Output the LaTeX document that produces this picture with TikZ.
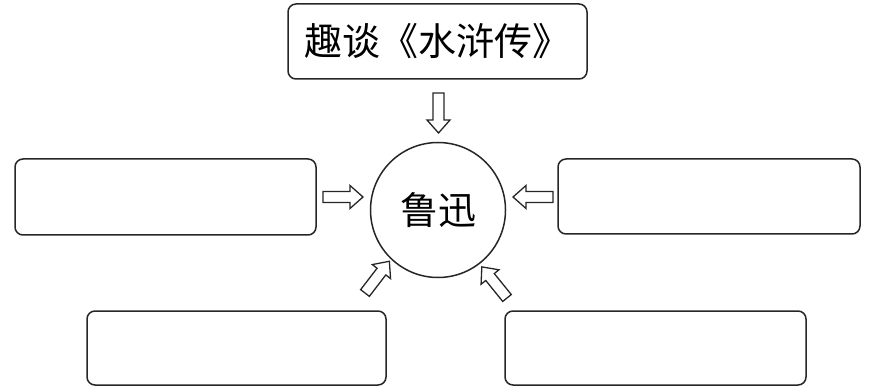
\documentclass[tikz,border=0pt]{standalone}
\usepackage{fontspec}
\newfontfamily\cjk{Noto Sans CJK SC}
\begin{document}
\begin{tikzpicture}[x=1pt,y=1pt,
  boxline/.style={draw=black!85, line width=1.5pt, rounded corners=8pt},
  blankbox/.style={boxline, minimum width=300pt, minimum height=75pt, inner sep=0pt},
  arrowline/.style={draw=black!85, line width=1.3pt, line join=miter},
  pics/hollowarrow/.style={code={
    \draw[arrowline] (0,-5.5) -- (27,-5.5) -- (27,-11.5) -- (40,0) -- (27,11.5) -- (27,5.5) -- (0,5.5) -- cycle;}}
]
\useasboundingbox (0,0) rectangle (869,391);
% title box
\node[boxline, minimum width=299pt, minimum height=75pt, inner sep=0pt, font=\cjk\fontsize{38}{40}\selectfont] (title) at (437.5,349.5) {趣谈《水浒传》};
% centre circle
\node[circle, draw=black!85, line width=1.5pt, minimum size=135pt, inner sep=0pt, font=\cjk\fontsize{38}{40}\selectfont] (lx) at (438,181) {鲁迅};
% blank boxes
\node[blankbox, minimum width=301pt, minimum height=76pt] (left) at (165.5,194) {};
\node[blankbox, minimum width=302pt] (right) at (709,194.5) {};
\node[blankbox, minimum width=299pt, minimum height=74pt] (bl) at (236.5,43) {};
\node[blankbox, minimum width=301pt, minimum height=74pt] (br) at (655.5,43) {};
% arrow tails
\coordinate (tdown) at (438.5,298);
\coordinate (tleft) at (323,194);
\coordinate (tright) at (553,194);
\coordinate (tbl) at (365,98);
\coordinate (tbr) at (507,93);
\pic[rotate=-90] at (tdown) {hollowarrow};
\pic at (tleft) {hollowarrow};
\pic[rotate=180] at (tright) {hollowarrow};
\pic[rotate=52.5] at (tbl) {hollowarrow};
\pic[rotate=129] at (tbr) {hollowarrow};
\end{tikzpicture}
\end{document}
